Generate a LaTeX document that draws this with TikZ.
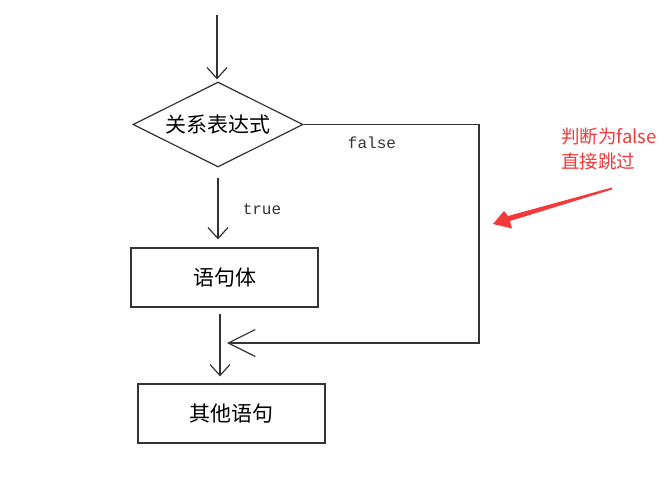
\documentclass[tikz,border=0pt]{standalone}
\usepackage{fontspec}
\newfontfamily\cjk{Noto Sans CJK SC}
\newfontfamily\monof{Liberation Mono}
\usetikzlibrary{shapes.geometric,arrows.meta}
\definecolor{ink}{HTML}{333333}
\definecolor{redmark}{HTML}{F23A3A}
\tikzset{
  flow/.style={draw=ink, line width=1.2pt},
  boxnode/.style={flow, rectangle, minimum width=187pt, minimum height=59pt, inner sep=0pt, font=\cjk\fontsize{21}{21}\selectfont},
  decision/.style={flow, diamond, aspect=2, minimum width=170pt, minimum height=85pt, inner sep=0pt, font=\cjk\fontsize{21}{21}\selectfont},
  conn/.style={draw=ink, line width=1.2pt, -{Straight Barb[length=11pt,width=20pt,line width=1.2pt]}},
  bigconn/.style={draw=ink, line width=1.2pt, -{Straight Barb[length=27pt,width=27pt,line width=1.2pt]}},
  lbl/.style={font=\monof\fontsize{16}{16}\selectfont, text=ink, inner sep=0pt},
  note/.style={font=\cjk\fontsize{18.5}{25}\selectfont, text=redmark, align=left, inner sep=0pt}
}
\begin{document}
\begin{tikzpicture}[x=1pt,y=-1pt]
\useasboundingbox (0,0) rectangle (670,482);
\fill[white] (0,0) rectangle (670,482);
\coordinate (start) at (217,15);
\node[decision] (dia) at (218,124.5) {关系表达式};
\node[boxnode] (body) at (224.5,277.5) {语句体};
\node[boxnode] (other) at (231.5,413.5) {其他语句};
\coordinate (corner) at (479,124.5);
\coordinate (join) at (227,343);
\draw[conn, shorten >=2pt] (start) -- (start |- dia.north);
\draw[conn, shorten <=10pt, shorten >=8pt] (dia.south) -- (dia.south |- body.north);
\draw[conn, shorten <=6pt, shorten >=7pt] (body.south -| 220,0) -- (other.north -| 220,0);
\draw[bigconn] (dia.east) -- (corner) |- (join);
\node[lbl] (lf) at (372,143) {false};
\node[lbl] (lt) at (262,209) {true};
\node[note, anchor=north west] (nt) at (561,128) {判断为false\\直接跳过};
\fill[redmark] (612,187.5) -- (508,216) -- (504,211) -- (493,224) -- (512,228.5) -- (510,221) -- (612,189.5) -- cycle;
\end{tikzpicture}
\end{document}
